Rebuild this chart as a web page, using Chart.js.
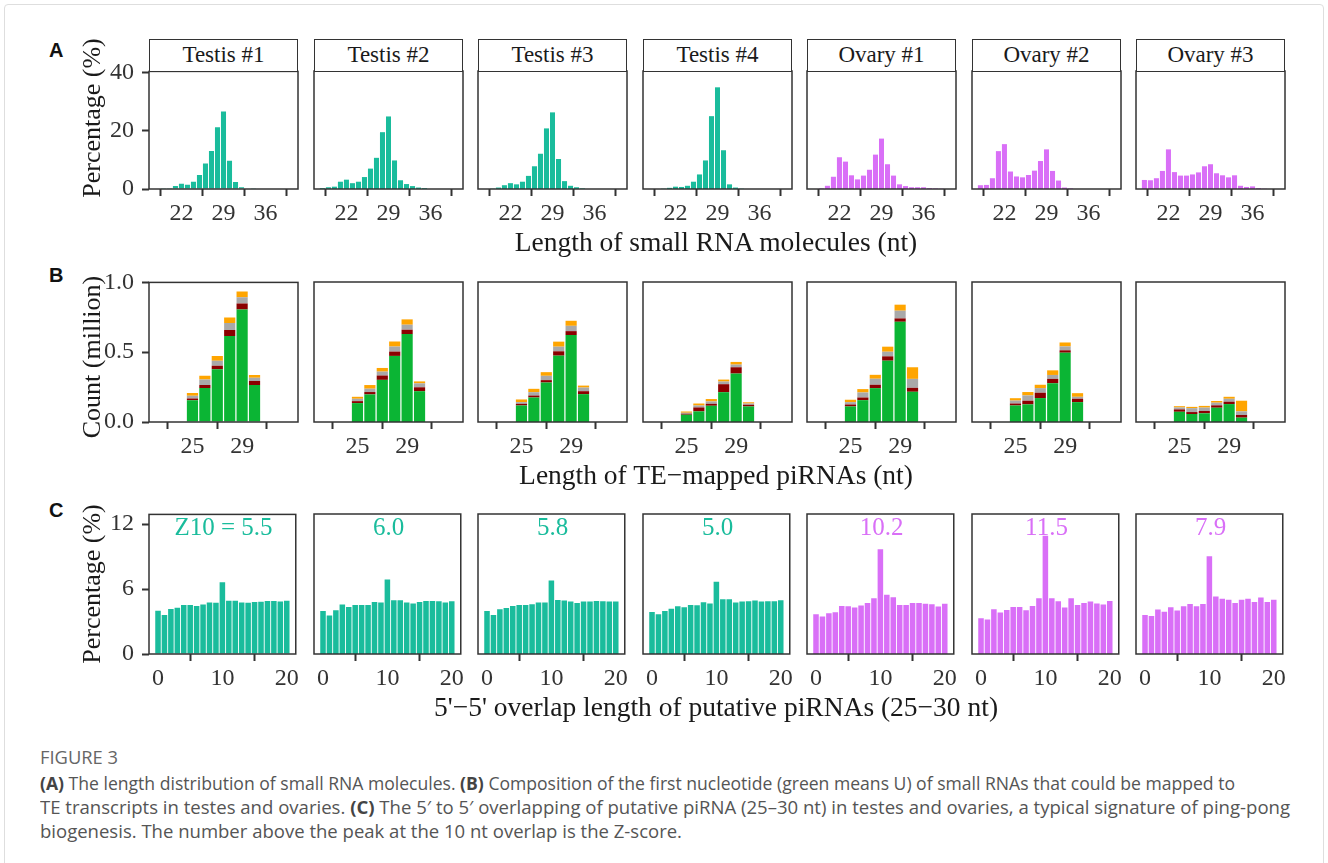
<!DOCTYPE html>
<html>
<head>
<meta charset="UTF-8">
<title>Figure 3</title>
<script src="https://cdn.jsdelivr.net/npm/chart.js"></script>
<style>
    body { margin: 0; width: 1328px; height: 863px; position: relative; overflow: hidden; background: #fff; }
    canvas { position: absolute; }
    .frame { position: absolute; left: 4px; top: 4px; width: 1318px; height: 880px; border: 1px solid #dedede; border-radius: 4px; }
    .serif { position: absolute; font-family: "Liberation Serif", "Times New Roman", serif; color: #1a1a1a; white-space: nowrap; }
    .strip { position: absolute; box-sizing: border-box; border: 1.5px solid #333; background: #fff; text-align: center;
             font-family: "Liberation Serif", serif; font-size: 23px; line-height: 29px; color: #1a1a1a; }
    .letter { position: absolute; font-family: "Liberation Sans", Arial, sans-serif; font-weight: bold; font-size: 20px; color: #111; }
    .cap { position: absolute; left: 40px; font-family: "Open Sans", sans-serif; font-size: 18px; line-height: 24px;
           color: #555; white-space: nowrap; transform-origin: 0 50%; }
    .cap b { font-weight: 700; color: #444; }
</style>
</head>
<body>
<div class="frame"></div>
<script>
    // panels
    const samples = ['Testis #1', 'Testis #2', 'Testis #3', 'Testis #4', 'Ovary #1', 'Ovary #2', 'Ovary #3'];
    const testisColor = '#1abc9c';
    const ovaryColor = '#d96ff7';

    // A: length distribution of small RNAs (%)
    const lengthNt = [18, 19, 20, 21, 22, 23, 24, 25, 26, 27, 28, 29, 30, 31, 32, 33, 34, 35, 36, 37, 38, 39, 40];
    const lenPct = [
        [0, 0.1, 0.3, 1.0, 1.8, 1.5, 2.5, 4.8, 8.8, 13.1, 21.3, 26.7, 9.7, 2.4, 0.6, 0.2, 0.1, 0, 0, 0, 0, 0, 0],
        [0.3, 0.6, 0.8, 2.5, 3.2, 2.0, 2.5, 4.1, 7.0, 10.7, 19.5, 24.9, 9.8, 3.0, 1.7, 1.0, 0.5, 0.3, 0, 0, 0, 0, 0],
        [0, 0.1, 0.5, 1.3, 2.0, 1.6, 2.5, 4.5, 7.8, 12.1, 20.8, 26.3, 10.3, 2.7, 1.1, 0.6, 0.2, 0, 0, 0, 0, 0, 0],
        [0, 0, 0.1, 0.4, 0.8, 0.7, 1.1, 2.5, 5.0, 9.8, 25.0, 34.9, 13.3, 1.6, 0.5, 0.1, 0, 0, 0, 0, 0, 0, 0],
        [0, 0.2, 1.1, 4.2, 10.9, 9.4, 4.7, 3.3, 4.6, 6.6, 11.8, 17.3, 8.5, 4.6, 1.6, 1.0, 0.6, 0.6, 0.6, 0.3, 0.2, 0.1, 0],
        [1.3, 1.4, 3.7, 13.0, 15.4, 6.0, 4.3, 4.0, 4.8, 6.3, 9.6, 13.6, 6.2, 2.9, 0.5, 0.2, 0, 0, 0, 0, 0, 0, 0],
        [3.1, 3.0, 3.7, 6.2, 13.6, 5.8, 4.6, 4.6, 5.0, 5.7, 7.8, 8.5, 5.4, 4.7, 4.0, 4.7, 1.1, 0.7, 0.9, 0.3, 0.1, 0, 0]
    ];

    // B: TE-mapped piRNAs by first nucleotide (million)
    const piLen = [25, 26, 27, 28, 29, 30];
    const ntU = [
        [0.155, 0.244, 0.377, 0.616, 0.806, 0.265],
        [0.135, 0.197, 0.301, 0.472, 0.628, 0.220],
        [0.118, 0.175, 0.282, 0.474, 0.621, 0.199],
        [0.052, 0.076, 0.116, 0.213, 0.346, 0.111],
        [0.111, 0.156, 0.242, 0.438, 0.716, 0.216],
        [0.118, 0.126, 0.171, 0.277, 0.495, 0.142],
        [0.073, 0.057, 0.062, 0.102, 0.128, 0.031]
    ];
    const ntA = [
        [0.014, 0.021, 0.026, 0.043, 0.043, 0.028],
        [0.014, 0.017, 0.031, 0.031, 0.031, 0.028],
        [0.012, 0.014, 0.017, 0.031, 0.028, 0.021],
        [0.007, 0.028, 0.014, 0.057, 0.045, 0.012],
        [0.014, 0.019, 0.024, 0.031, 0.024, 0.028],
        [0.014, 0.026, 0.038, 0.031, 0.017, 0.024],
        [0.017, 0.014, 0.017, 0.017, 0.017, 0.019]
    ];
    const ntC = [
        [0.019, 0.040, 0.036, 0.050, 0.045, 0.024],
        [0.017, 0.024, 0.028, 0.036, 0.036, 0.028],
        [0.012, 0.024, 0.031, 0.033, 0.038, 0.026],
        [0.007, 0.014, 0.017, 0.019, 0.019, 0.009],
        [0.017, 0.036, 0.043, 0.033, 0.055, 0.064],
        [0.021, 0.038, 0.033, 0.028, 0.028, 0.014],
        [0.014, 0.028, 0.024, 0.019, 0.021, 0.026]
    ];
    const ntG = [
        [0.019, 0.026, 0.033, 0.040, 0.040, 0.019],
        [0.014, 0.026, 0.026, 0.036, 0.038, 0.014],
        [0.019, 0.024, 0.026, 0.036, 0.036, 0.014],
        [0.009, 0.014, 0.017, 0.014, 0.019, 0.009],
        [0.017, 0.024, 0.028, 0.036, 0.043, 0.083],
        [0.017, 0.024, 0.024, 0.033, 0.028, 0.026],
        [0.009, 0.009, 0.012, 0.012, 0.014, 0.076]
    ];
    const ntColors = ['#0bb534', '#8b0000', '#a9a9a9', '#ffa500'];

    // C: 5'-5' overlap (%)
    const overlapNt = [0, 1, 2, 3, 4, 5, 6, 7, 8, 9, 10, 11, 12, 13, 14, 15, 16, 17, 18, 19, 20];
    const overlapPct = [
        [4.0, 3.6, 4.15, 4.28, 4.52, 4.52, 4.43, 4.58, 4.77, 4.74, 6.62, 4.92, 4.92, 4.77, 4.74, 4.8, 4.83, 4.89, 4.89, 4.86, 4.92],
        [3.97, 3.54, 4.03, 4.55, 4.34, 4.52, 4.52, 4.52, 4.8, 4.74, 6.86, 4.95, 4.95, 4.74, 4.65, 4.8, 4.89, 4.89, 4.86, 4.74, 4.86],
        [3.97, 3.6, 4.12, 4.25, 4.43, 4.52, 4.52, 4.58, 4.74, 4.74, 6.77, 4.98, 4.92, 4.83, 4.71, 4.83, 4.83, 4.89, 4.86, 4.83, 4.83],
        [3.88, 3.66, 3.97, 4.18, 4.4, 4.31, 4.52, 4.49, 4.77, 4.65, 6.65, 5.05, 5.05, 4.74, 4.83, 4.86, 4.92, 4.83, 4.86, 4.86, 4.95],
        [3.66, 3.45, 3.75, 3.85, 4.43, 4.4, 4.28, 4.46, 4.71, 5.14, 9.66, 5.45, 5.23, 4.52, 4.52, 4.71, 4.71, 4.62, 4.58, 4.37, 4.62],
        [3.29, 3.17, 4.12, 3.82, 4.06, 4.34, 4.34, 4.03, 4.43, 5.14, 10.89, 5.14, 4.86, 4.28, 5.14, 4.52, 4.71, 4.83, 4.65, 4.55, 4.89],
        [3.6, 3.5, 4.1, 3.9, 4.3, 4.0, 4.4, 4.6, 4.4, 4.6, 9.0, 5.3, 5.1, 5.0, 4.7, 5.0, 5.1, 4.8, 5.2, 4.8, 5.0]
    ];
    const zScores = [5.5, 6.0, 5.8, 5.0, 10.2, 11.5, 7.9];

    // layout
    const PANEL_LEFT = [149, 314, 478, 643, 807, 972, 1136];
    const PANEL_W = 149;
    const rowA = { top: 71, h: 118, xMin: 16.6, xMax: 41.4, xTicks: [22, 29, 36], yMax: 40.5, yTicks: [0, 20, 40], bar: 0.84, fmt: v => String(v) };
    const rowB = { top: 282, h: 140, xMin: 21.5, xMax: 33.5, xTicks: [25, 29], yMax: 1.0, yTicks: [0, 0.5, 1.0], bar: 0.9, fmt: v => v.toFixed(1), stacked: true };
    const rowC = { top: 514, h: 140, xMin: -1.4, xMax: 21.4, xTicks: [0, 10, 20], yMax: 12.9, yTicks: [0, 6, 12], bar: 0.86, fmt: v => String(v) };

    const tickFont = { family: 'Liberation Serif', size: 24 };
    const tickColor = '#333';

    const framePlugin = {
        id: 'frame',
        afterDraw(chart) {
            const a = chart.chartArea, ctx = chart.ctx;
            ctx.save();
            ctx.strokeStyle = '#333';
            ctx.lineWidth = 1.5;
            ctx.strokeRect(a.left, a.top, a.right - a.left, a.bottom - a.top);
            ctx.restore();
        }
    };

    function buildChart(w, h, first, row, datasets) {
        const canvas = document.createElement('canvas');
        canvas.width = w;
        canvas.height = h;
        canvas.style.width = w + 'px';
        canvas.style.height = h + 'px';
        document.body.appendChild(canvas);
        const yScale = {
            display: first, min: 0, max: row.yMax, stacked: !!row.stacked,
            afterBuildTicks: s => { s.ticks = row.yTicks.map(v => ({ value: v })); },
            grid: { display: true, drawOnChartArea: false, tickLength: 7, tickWidth: 2, tickColor: '#333' },
            border: { display: false },
            ticks: { font: tickFont, color: tickColor, padding: 8, callback: v => row.fmt(v) }
        };
        if (first) yScale.afterFit = s => { s.width = 52; };
        return new Chart(canvas, {
            type: 'bar',
            data: { datasets },
            options: {
                responsive: false,
                animation: false,
                layout: { padding: 4 },
                plugins: { legend: { display: false }, tooltip: { enabled: false } },
                datasets: { bar: { barPercentage: row.bar, categoryPercentage: 1, borderWidth: 0 } },
                scales: {
                    x: {
                        type: 'linear', min: row.xMin, max: row.xMax, offset: false, stacked: !!row.stacked,
                        afterBuildTicks: s => { s.ticks = row.xTicks.map(v => ({ value: v })); },
                        afterFit: s => { s.height = 52; },
                        grid: { display: true, drawOnChartArea: false, tickLength: 7, tickWidth: 2, tickColor: '#333' },
                        border: { display: false },
                        ticks: { font: tickFont, color: tickColor, padding: 3, maxRotation: 0, autoSkip: false }
                    },
                    y: yScale
                }
            },
            plugins: [framePlugin]
        });
    }

    // build once to measure the axis margins, then rebuild so the plot area is exactly the panel box
    function makePanel(col, row, datasets) {
        const first = col === 0;
        let w = PANEL_W + (first ? 120 : 60), h = row.h + 90;
        let chart = buildChart(w, h, first, row, datasets);
        let a = chart.chartArea;
        w += PANEL_W - (a.right - a.left);
        h += row.h - (a.bottom - a.top);
        chart.canvas.remove();
        chart.destroy();
        chart = buildChart(w, h, first, row, datasets);
        a = chart.chartArea;
        chart.canvas.style.left = (PANEL_LEFT[col] - a.left) + 'px';
        chart.canvas.style.top = (row.top - a.top) + 'px';
    }

    function addText(cls, text, css) {
        const d = document.createElement('div');
        d.className = cls;
        d.textContent = text;
        d.style.cssText = css;
        document.body.appendChild(d);
        return d;
    }

    samples.forEach((name, i) => {
        const color = i < 4 ? testisColor : ovaryColor;

        // A
        makePanel(i, rowA, [{
            data: lengthNt.map((x, k) => ({ x, y: lenPct[i][k] })),
            backgroundColor: color
        }]);
        addText('strip', name, `left:${PANEL_LEFT[i]}px;top:39px;width:${PANEL_W}px;height:33px;`);

        // B
        const layers = [ntU, ntA, ntC, ntG];
        makePanel(i, rowB, layers.map((arr, j) => ({
            label: ['U', 'A', 'C', 'G'][j],
            data: piLen.map((x, k) => ({ x, y: arr[i][k] })),
            backgroundColor: ntColors[j]
        })));

        // C
        makePanel(i, rowC, [{
            data: overlapNt.map((x, k) => ({ x, y: overlapPct[i][k] })),
            backgroundColor: color
        }]);
        const z = (i === 0 ? 'Z10 = ' : '') + zScores[i].toFixed(1);
        addText('serif', z, `left:${PANEL_LEFT[i] + PANEL_W / 2}px;top:527px;transform:translate(-50%,-50%);font-size:25px;color:${color};`);
    });

    // axis titles
    addText('serif', 'Length of small RNA molecules (nt)', 'left:716px;top:242px;transform:translate(-50%,-50%);font-size:27.5px;');
    addText('serif', 'Length of TE\u2212mapped piRNAs (nt)', 'left:716px;top:475px;transform:translate(-50%,-50%);font-size:27.5px;');
    addText('serif', "5'\u22125' overlap length of putative piRNAs (25\u221230 nt)", 'left:716px;top:707px;transform:translate(-50%,-50%);font-size:27.5px;');
    addText('serif', 'Percentage (%)', 'left:92px;top:118px;transform:translate(-50%,-50%) rotate(-90deg);font-size:26px;');
    addText('serif', 'Count (million)', 'left:92px;top:357px;transform:translate(-50%,-50%) rotate(-90deg);font-size:26px;');
    addText('serif', 'Percentage (%)', 'left:92px;top:584px;transform:translate(-50%,-50%) rotate(-90deg);font-size:26px;');

    addText('letter', 'A', 'left:49px;top:39px;');
    addText('letter', 'B', 'left:49px;top:264px;');
    addText('letter', 'C', 'left:49px;top:499px;');
</script>

<div class="cap" data-w="78" style="top:745px;color:#666;">FIGURE 3</div>
<div class="cap" data-w="1195" style="top:771px;"><b>(A)</b> The length distribution of small RNA molecules. <b>(B)</b> Composition of the first nucleotide (green means U) of small RNAs that could be mapped to</div>
<div class="cap" data-w="1250" style="top:795px;">TE transcripts in testes and ovaries. <b>(C)</b> The 5&prime; to 5&prime; overlapping of putative piRNA (25&ndash;30 nt) in testes and ovaries, a typical signature of ping-pong</div>
<div class="cap" data-w="642" style="top:819px;">biogenesis. The number above the peak at the 10 nt overlap is the Z-score.</div>
<script>
    // squeeze the caption lines to the measured widths of the figure text
    document.querySelectorAll('.cap').forEach(el => {
        const natural = el.getBoundingClientRect().width;
        el.style.transform = `scaleX(${Number(el.dataset.w) / natural})`;
    });
</script>
</body>
</html>
